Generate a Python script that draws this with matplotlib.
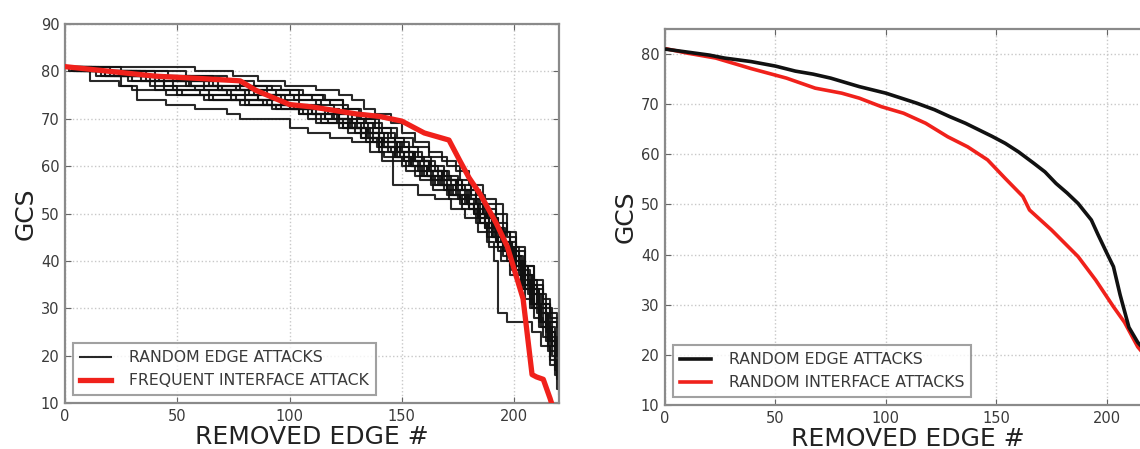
import matplotlib
matplotlib.use("Agg")
import matplotlib.pyplot as plt

# ---------------- data ----------------
# Left panel: random edge attack runs, each as (removed_edge, GCS) change points (step curves)
random_edge_runs = [
    [(0,81),(58,80),(75,79),(86,78),(98,77),(112,76),(122,75),(128,74),(133,72),(138,71),(145,69),(150,67),(156,65),(162,63),(168,61),(174,59),(180,56),(186,53),(192,50),(197,46),(201,43),(205,39),(209,36),(213,32),(216,29),(219,26)],
    [(0,81),(12,80),(40,79),(60,78),(78,77),(92,76),(104,75),(115,74),(124,72),(132,70),(140,68),(148,66),(155,64),(162,62),(170,60),(176,57),(181,55),(185,52),(195,44),(199,41),(204,37),(208,33),(212,29),(215,25),(218,21)],
    [(0,81),(4,80),(20,79),(38,78),(55,77),(70,76),(84,75),(96,73),(106,72),(116,70),(124,68),(132,66),(140,64),(147,62),(154,60),(161,58),(168,56),(174,54),(180,51),(185,48),(188,44),(191,40),(193,29),(197,27),(208,25),(212,22),(216,18),(219,15)],
    [(0,81),(11,78),(24,77),(30,76),(45,75),(62,74),(80,73),(96,72),(110,71),(122,69),(132,67),(140,65),(148,63),(156,61),(163,59),(170,57),(177,55),(183,52),(188,49),(193,46),(198,43),(202,39),(206,35),(210,31),(214,27),(217,23),(219,20)],
    [(0,81),(3,80),(18,79),(25,77),(32,74),(45,73),(58,72),(72,71),(78,70),(100,68),(108,67),(118,66),(128,65),(136,63),(142,62),(150,60),(156,58),(163,56),(170,54),(176,52),(182,50),(187,47),(192,44),(197,40),(201,36),(205,32),(209,28),(213,24),(216,19),(219,13)],
    [(0,81),(7,80),(26,79),(42,78),(56,77),(68,76),(82,75),(94,74),(104,73),(114,72),(122,70),(130,68),(136,65),(141,61),(146,56),(157,54),(165,53),(172,51),(178,49),(184,46),(189,43),(194,40),(198,37),(203,34),(207,30),(211,26),(215,21),(218,16)],
    [(0,81),(9,80),(28,79),(48,78),(64,77),(76,76),(88,75),(98,73),(108,72),(117,71),(126,70),(133,68),(140,66),(147,64),(153,62),(160,60),(166,58),(172,56),(178,53),(184,50),(189,47),(194,44),(199,41),(203,38),(207,34),(211,30),(214,26),(218,22)],
    [(0,81),(15,80),(34,79),(50,78),(62,76),(74,75),(86,74),(97,73),(104,71),(112,69),(122,68),(132,67),(140,65),(148,63),(155,61),(162,59),(169,57),(175,55),(181,53),(186,50),(190,47),(195,43),(200,39),(205,35),(209,31),(213,27),(216,23),(219,18)],
    [(0,81),(5,80),(22,79),(36,78),(44,76),(52,75),(66,74),(82,73),(94,72),(106,71),(116,70),(126,68),(134,66),(142,64),(149,62),(155,60),(161,58),(167,56),(173,54),(179,52),(184,49),(189,46),(193,43),(198,40),(203,36),(207,33),(211,29),(215,25),(218,20)],
    [(0,81),(20,80),(46,79),(66,78),(80,77),(90,76),(100,75),(110,74),(118,73),(126,71),(134,69),(141,67),(147,65),(153,63),(159,61),(165,59),(171,57),(177,55),(183,52),(188,49),(193,46),(198,42),(202,39),(206,36),(210,33),(214,30),(217,27),(220,25)],
    [(0,81),(10,80),(32,79),(44,77),(58,76),(72,75),(86,74),(99,73),(110,72),(120,70),(128,68),(135,66),(141,64),(148,62),(154,60),(160,58),(166,56),(172,54),(178,52),(184,49),(190,45),(195,42),(200,39),(204,35),(208,31),(212,27),(215,23),(218,18),(220,14)],
    [(0,81),(2,80),(16,79),(30,78),(40,76),(50,75),(64,74),(78,73),(92,72),(104,71),(114,69),(124,68),(132,66),(139,64),(145,63),(151,61),(158,59),(164,57),(170,55),(176,53),(182,51),(187,48),(191,45),(196,42),(201,38),(205,34),(209,30),(212,26),(215,22),(218,17)],
    [(0,81),(25,80),(54,79),(72,78),(84,77),(96,76),(106,75),(116,74),(124,72),(131,70),(138,68),(145,66),(151,64),(157,62),(163,60),(169,58),(175,56),(181,54),(187,51),(192,48),(197,45),(201,42),(205,39),(209,35),(213,31),(216,28),(220,26)],
    [(0,81),(8,80),(24,79),(40,78),(54,77),(68,76),(80,74),(92,73),(102,72),(112,71),(121,69),(129,67),(137,65),(144,63),(151,61),(157,59),(163,57),(169,55),(175,53),(180,51),(185,48),(190,45),(195,41),(199,38),(204,34),(208,30),(212,27),(216,24),(219,21)],
    [(0,81),(14,80),(36,79),(56,78),(68,77),(78,76),(90,75),(102,74),(112,73),(120,71),(128,69),(135,67),(142,65),(149,63),(155,61),(162,59),(168,57),(174,55),(180,53),(186,50),(191,47),(196,44),(201,40),(205,37),(209,34),(213,31),(216,27),(219,23)],
    [(0,81),(6,80),(18,79),(34,78),(48,76),(60,75),(74,74),(88,73),(100,72),(110,71),(119,70),(127,68),(134,66),(141,64),(147,62),(153,60),(159,58),(165,56),(171,54),(177,52),(182,50),(187,47),(192,44),(197,41),(202,37),(206,33),(210,29),(214,25),(217,20),(220,16)],
    [(0,81),(12,80),(30,79),(50,78),(66,77),(82,76),(94,75),(104,74),(114,72),(122,71),(130,69),(137,67),(144,65),(150,63),(156,61),(162,59),(168,57),(174,55),(179,52),(185,49),(190,46),(196,43),(200,40),(204,37),(208,34),(211,30),(214,26),(217,22),(220,19)],
    [(0,81),(4,80),(14,79),(28,78),(38,77),(50,76),(64,75),(76,74),(90,73),(100,72),(108,70),(117,69),(126,67),(134,65),(140,63),(146,61),(152,59),(158,57),(164,55),(171,53),(177,51),(183,48),(188,45),(193,42),(198,39),(203,35),(207,31),(211,27),(214,23),(218,18),(220,12)],
]

# Left panel: frequent interface attack
freq_x = [0, 10, 20, 40, 60, 78, 85, 95, 100, 110, 130, 140, 150, 160, 171, 176, 180, 185, 192, 197, 204, 208, 210, 213, 216, 218]
freq_y = [81, 80.5, 80, 79, 78.5, 78, 76, 74, 73, 72.5, 71, 70.5, 69.5, 67, 65.5, 61, 57.5, 54, 48, 43, 32, 16, 15.5, 15, 11, 8]

# Right panel: averaged curves
edge_x = [0, 10, 20, 27, 39, 50, 59, 67, 75, 88, 100, 107, 114, 122, 129, 136, 142, 148, 154, 160, 167, 172, 177, 182, 187, 193, 196, 200, 203, 206, 210, 214, 218]
edge_y = [81, 80.4, 79.8, 79.2, 78.5, 77.6, 76.6, 76.0, 75.2, 73.5, 72.2, 71.2, 70.2, 68.9, 67.5, 66.2, 64.9, 63.6, 62.2, 60.5, 58.2, 56.5, 54.2, 52.3, 50.2, 46.9, 44.0, 40.3, 37.6, 32.0, 25.5, 22.5, 20.5]
iface_x = [0, 10, 23, 39, 55, 68, 80, 88, 98, 108, 118, 128, 137, 146, 154, 162, 165, 175, 187, 195, 203, 208, 214, 218]
iface_y = [81.1, 80.2, 79.2, 77.1, 75.2, 73.2, 72.2, 71.2, 69.5, 68.2, 66.2, 63.5, 61.5, 58.9, 55.2, 51.6, 48.9, 44.9, 39.6, 34.9, 29.6, 26.5, 21.6, 19.5]

xticks = [0, 50, 100, 150, 200]
left_yticks = [10, 20, 30, 40, 50, 60, 70, 80, 90]
right_yticks = [10, 20, 30, 40, 50, 60, 70, 80]

RED = "#f0211b"
BLACK = "#111111"
SPINE = "#8a8a8a"
TXT = "#3a3a3a"

fig = plt.figure(figsize=(11.4, 4.49), dpi=100)
axL = fig.add_axes([65/1140, 1 - 403/449, 494/1140, 379/449])
axR = fig.add_axes([665/1140, 1 - 405/449, 486/1140, 376/449])

def style(ax, yticks, ylim):
    ax.set_xlim(0, 220)
    ax.set_ylim(*ylim)
    ax.set_xticks(xticks)
    ax.set_yticks(yticks)
    ax.tick_params(direction="in", top=True, right=True, length=4, width=0.8,
                   color="#666666", labelsize=10.5, labelcolor=TXT, pad=4)
    ax.grid(True, linestyle=":", color="#c8c8c8", linewidth=1.0)
    for s in ax.spines.values():
        s.set_color(SPINE)
        s.set_linewidth(1.6)
    ax.set_xlabel("REMOVED EDGE #", fontsize=18, color="#222222", labelpad=1)
    ax.set_ylabel("GCS", fontsize=18, color="#222222", labelpad=2)

# Left panel
for i, run in enumerate(random_edge_runs):
    xs = [p[0] for p in run] + [220]
    ys = [p[1] for p in run] + [run[-1][1]]
    axL.step(xs, ys, where="post", color=BLACK, lw=1.5, alpha=0.9,
             label="RANDOM EDGE ATTACKS" if i == 0 else None, zorder=2)
axL.plot(freq_x, freq_y, color=RED, lw=3.8, label="FREQUENT INTERFACE ATTACK", zorder=3)
style(axL, left_yticks, (10, 90))

# Right panel
axR.plot(edge_x, edge_y, color=BLACK, lw=2.6, label="RANDOM EDGE ATTACKS", zorder=3)
axR.plot(iface_x, iface_y, color=RED, lw=2.6, label="RANDOM INTERFACE ATTACKS", zorder=2)
style(axR, right_yticks, (10, 85))

for ax in (axL, axR):
    leg = ax.legend(loc="lower left", fontsize=11.3, fancybox=False, frameon=True,
                    borderaxespad=0.5, handlelength=2.0, handletextpad=1.1,
                    labelspacing=0.5, borderpad=0.45)
    leg.get_frame().set_edgecolor(SPINE)
    leg.get_frame().set_linewidth(1.5)
    for t in leg.get_texts():
        t.set_color(TXT)

fig.savefig("out.png", dpi=100)
